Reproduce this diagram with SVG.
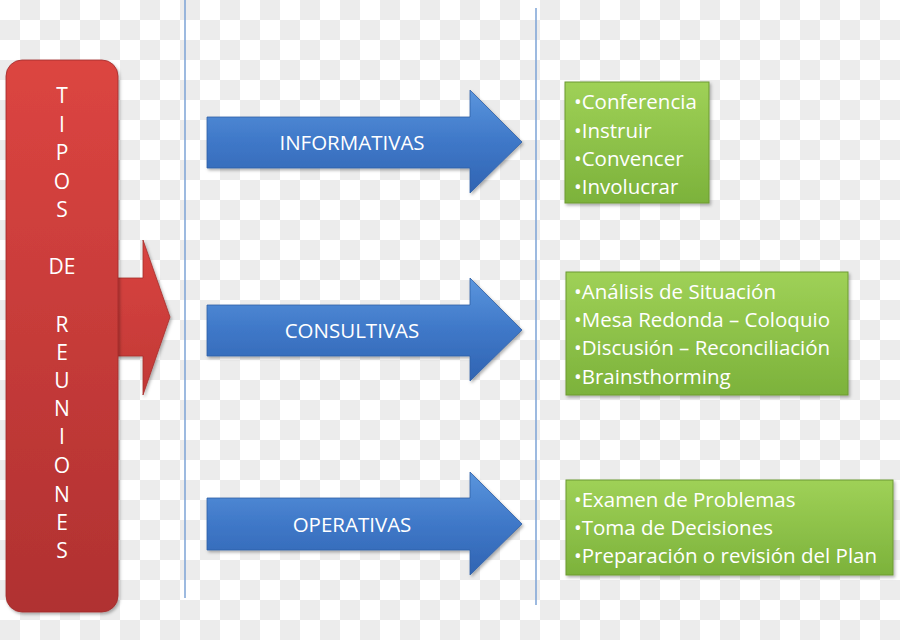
<svg xmlns="http://www.w3.org/2000/svg" width="900" height="640" viewBox="0 0 900 640">
<defs>
<pattern id="checker" width="40" height="40" patternUnits="userSpaceOnUse">
<rect width="40" height="40" fill="#ffffff"/>
<rect x="20" y="0" width="20" height="20" fill="#ececec"/>
<rect x="0" y="20" width="20" height="20" fill="#ececec"/>
</pattern>
<linearGradient id="redG" x1="0" y1="0" x2="0" y2="1">
<stop offset="0" stop-color="#dc4541"/>
<stop offset="1" stop-color="#b03131"/>
</linearGradient>
<linearGradient id="redArrowG" x1="0" y1="0" x2="0" y2="1">
<stop offset="0" stop-color="#d94440"/>
<stop offset="1" stop-color="#c13836"/>
</linearGradient>
<linearGradient id="blueG" x1="0" y1="0" x2="0" y2="1">
<stop offset="0" stop-color="#5a95dd"/>
<stop offset="0.5" stop-color="#3f78c8"/>
<stop offset="1" stop-color="#3064b2"/>
</linearGradient>
<linearGradient id="greenG" x1="0" y1="0" x2="0" y2="1">
<stop offset="0" stop-color="#9fd157"/>
<stop offset="1" stop-color="#7cb23b"/>
</linearGradient>
<filter id="shadow" x="-10%" y="-10%" width="120%" height="120%">
<feDropShadow dx="1.5" dy="2" stdDeviation="1.5" flood-color="#000" flood-opacity="0.3"/>
</filter>
</defs>
<style>
.lbl { font-family: "Open Sans", "Liberation Sans", Arial, sans-serif; fill: #ffffff; }
.red { font-size: 21px; text-anchor: middle; }
.arrowTxt { font-size: 20.5px; text-anchor: middle; }
.item { font-size: 20.5px; }
.blue { fill: url(#blueG); stroke: #2f5fa6; stroke-width: 0.8; filter: url(#shadow); }
.green { fill: url(#greenG); stroke: #6c9a32; stroke-width: 1; filter: url(#shadow); }
.divider { stroke: #7ca3d6; stroke-width: 1.5; fill: none; }
</style>
<rect width="900" height="640" fill="url(#checker)"/>

<g id="connectors">
<line class="divider" x1="185" y1="0" x2="185" y2="598"/>
<line class="divider" x1="536" y1="8" x2="536" y2="605"/>
<path id="red-arrow" d="M110,278 H143 V240 L170,317 L143,395 V356 H110 Z" fill="url(#redArrowG)" stroke="#a62e2c" stroke-width="0.8" filter="url(#shadow)"/>
</g>

<g id="tipos-de-reuniones">
<rect x="6" y="60" width="112" height="552" rx="16" ry="16" fill="url(#redG)" stroke="#a02c2b" stroke-width="0.8" filter="url(#shadow)"/>
<g class="lbl red">
<text x="62" y="103">T</text>
<text x="62" y="132">I</text>
<text x="62" y="160">P</text>
<text x="62" y="189">O</text>
<text x="62" y="217">S</text>
<text x="62" y="274">DE</text>
<text x="62" y="332">R</text>
<text x="62" y="360">E</text>
<text x="62" y="388">U</text>
<text x="62" y="416">N</text>
<text x="62" y="444">I</text>
<text x="62" y="473">O</text>
<text x="62" y="502">N</text>
<text x="62" y="530">E</text>
<text x="62" y="558">S</text>
</g>
</g>

<g id="informativas">
<path class="blue" d="M207,117 H470 V90 L522,142 L470,193 V168 H207 Z"/>
<text class="lbl arrowTxt" x="352" y="150">INFORMATIVAS</text>
</g>
<g id="consultivas">
<path class="blue" d="M207,305 H470 V278 L522,330 L470,381 V356 H207 Z"/>
<text class="lbl arrowTxt" x="352" y="338">CONSULTIVAS</text>
</g>
<g id="operativas">
<path class="blue" d="M207,498 H470 V472 L522,524 L470,575 V550 H207 Z"/>
<text class="lbl arrowTxt" x="352" y="532">OPERATIVAS</text>
</g>

<g id="list-informativas">
<rect class="green" x="565" y="82" width="144" height="121"/>
<g class="lbl item">
<text x="574" y="109">•Conferencia</text>
<text x="574" y="138">•Instruir</text>
<text x="574" y="166">•Convencer</text>
<text x="574" y="194">•Involucrar</text>
</g>
</g>
<g id="list-consultivas">
<rect class="green" x="566" y="272" width="282" height="123"/>
<g class="lbl item">
<text x="574" y="299">•Análisis de Situación</text>
<text x="574" y="327">•Mesa Redonda – Coloquio</text>
<text x="574" y="355">•Discusión – Reconciliación</text>
<text x="574" y="384">•Brainsthorming</text>
</g>
</g>
<g id="list-operativas">
<rect class="green" x="566" y="480" width="327" height="95"/>
<g class="lbl item">
<text x="574" y="507">•Examen de Problemas</text>
<text x="574" y="535">•Toma de Decisiones</text>
<text x="574" y="563">•Preparación o revisión del Plan</text>
</g>
</g>
</svg>
